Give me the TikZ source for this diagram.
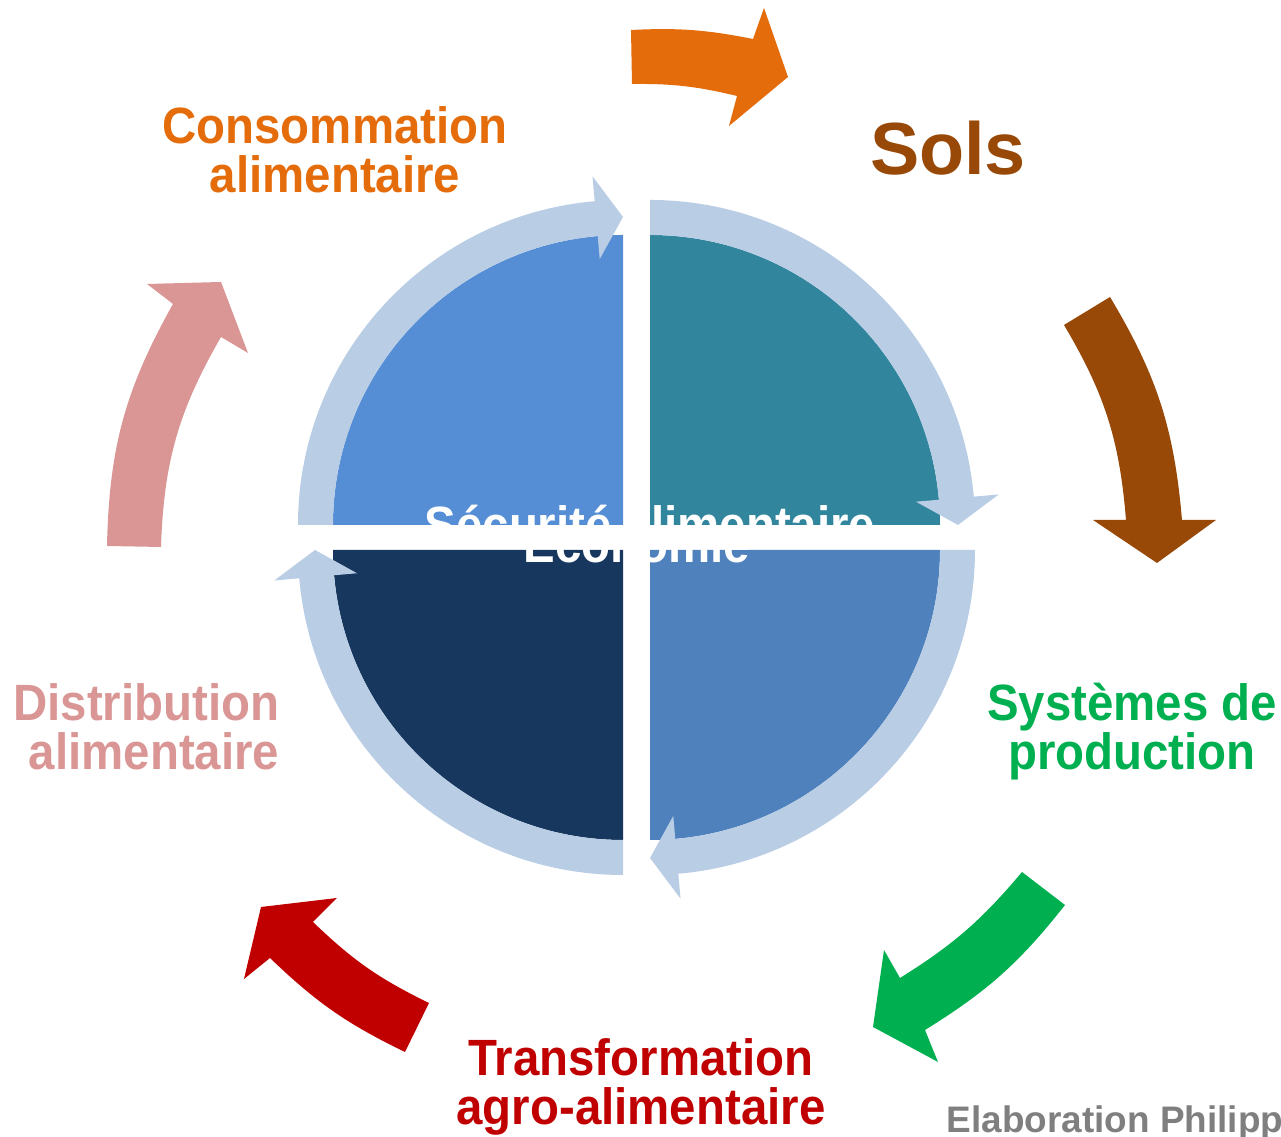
\documentclass[tikz,border=0pt]{standalone}
\usepackage{fontspec}
\setmainfont{Liberation Sans}
\newfontfamily\nhanfont{Liberation Sans}[FakeStretch=0.93]
\usetikzlibrary{calc}
\definecolor{cam}{HTML}{E46C0A}
\definecolor{nau}{HTML}{984807}
\definecolor{xanhla}{HTML}{00B050}
\definecolor{do}{HTML}{C00000}
\definecolor{hong}{HTML}{D99694}
\definecolor{vongxanh}{HTML}{B9CDE5}
\definecolor{gocA}{HTML}{558ED5}
\definecolor{gocB}{HTML}{31859C}
\definecolor{gocC}{HTML}{4F81BD}
\definecolor{gocD}{HTML}{17375E}
\definecolor{xam}{HTML}{7F7F7F}
\tikzset{
  nhan/.style={inner sep=0pt, align=center, anchor=base, font=\nhanfont\bfseries\fontsize{14.5}{14.2}\selectfont},
  vong/.style={fill=vongxanh},
}
\newcommand{\ringarrow}[3]{%
  \fill[vong] ($(#1)+(#2:\rout)$) arc[start angle=#2, end angle=#3+5, radius=\rout]
    -- ($(#1)+(#3+5:350)$) -- ($(#1)+(#3:308)$) -- ($(#1)+(#3+5:267)$)
    -- ($(#1)+(#3+5:\rin)$) arc[start angle=#3+5, end angle=#2, radius=\rin] -- cycle;}
\begin{document}
\begin{tikzpicture}[x=0.01cm,y=0.01cm,line join=round]
	\useasboundingbox (0,0) rectangle (1281,1137);
	\def\rin{290}
	\def\rout{325}
	%Vẽ bốn góc phần tư
	\coordinate (tl) at (623,612);
	\coordinate (tr) at (650,612);
	\coordinate (bl) at (623,587);
	\coordinate (br) at (650,587);
	\fill[gocA] (tl) -- ++(180:\rin) arc[start angle=180, end angle=90, radius=\rin] -- cycle;
	\fill[gocB] (tr) -- ++(90:\rin) arc[start angle=90, end angle=0, radius=\rin] -- cycle;
	\fill[gocC] (br) -- ++(0:\rin) arc[start angle=0, end angle=-90, radius=\rin] -- cycle;
	\fill[gocD] (bl) -- ++(-90:\rin) arc[start angle=-90, end angle=-180, radius=\rin] -- cycle;
	%Vẽ vòng mũi tên bên trong
	\ringarrow{tl}{180}{90}
	\ringarrow{tr}{90}{0}
	\ringarrow{br}{0}{-90}
	\ringarrow{bl}{-90}{-180}
	%Chữ ở giữa
	\node[nhan, text=white] (secu) at (650,594) {Sécurité alimentaire};
	\node[nhan, text=white] (eco) at (637,574) {Economie};
	%Vẽ các mũi tên bên ngoài
	\fill[cam] (631,1107) -- (632,1053) to[bend left=7] (737,1041) -- (729,1011) -- (788,1060)
		-- (764,1129) -- (753,1098) to[bend right=7] (631,1107) -- cycle;
	\fill[nau] (1064,812) -- (1110,840) to[bend left=13] (1182,617) -- (1216,617) -- (1157,574)
		-- (1093,617) -- (1126,617) to[bend right=13] (1064,812) -- cycle;
	\fill[xanhla] (1022,265) -- (1065,232) to[bend left=10] (925,107) -- (938,75) -- (873,110)
		-- (884,187) -- (900,159) to[bend right=9] (1022,265) -- cycle;
	\fill[do] (429,134) -- (405,85) to[bend left=9] (270,179) -- (244,158) -- (261,230)
		-- (337,239) -- (313,215) to[bend right=9] (429,134) -- cycle;
	\fill[hong] (161,590) -- (107,591) to[bend left=14] (173,833) -- (147,853) -- (221,855)
		-- (248,784) -- (221,800) to[bend right=14] (161,590) -- cycle;
	%Các nhãn
	\node[nhan, text=cam] (conso) at (335,944) {Consommation\\alimentaire};
	\node[nhan, text=nau, font=\bfseries\fontsize{21}{24}\selectfont] (sols) at (948,962) {Sols};
	\node[nhan, text=xanhla] (syst) at (1132,367) {Systèmes de\\production};
	\node[nhan, text=do] (transfo) at (641,12) {Transformation\\agro-alimentaire};
	\node[nhan, text=hong, align=right, anchor=base east] (distri) at (280,367) {Distribution\\alimentaire};
	\node[inner sep=0pt, anchor=base west, text=xam, font=\bfseries\fontsize{10.5}{12}\selectfont] (elab) at (946,4) {Elaboration Philipp};
\end{tikzpicture}
\end{document}
